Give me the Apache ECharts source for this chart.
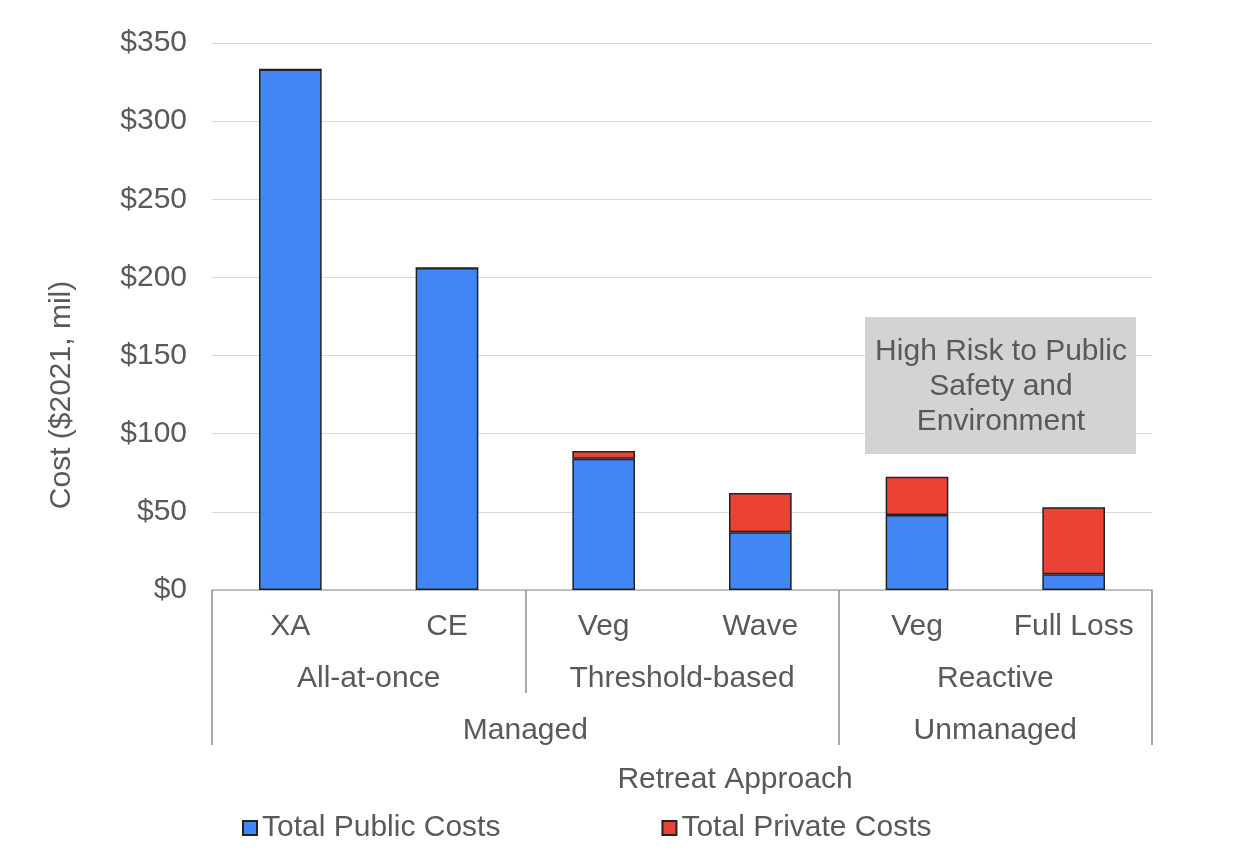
<!DOCTYPE html>
<html>
<head>
<meta charset="utf-8">
<title>Retreat Approach Costs</title>
<script src="https://cdn.jsdelivr.net/npm/echarts@6/dist/echarts.min.js"></script>
<style>
  html, body { margin: 0; padding: 0; background: #ffffff; }
  #chart { width: 1247px; height: 864px; }
</style>
</head>
<body>
<div id="chart"></div>
<script>
// Approach categories (bottom level of the axis)
const categories = ['XA', 'CE', 'Veg', 'Wave', 'Veg', 'Full Loss'];
// Middle level: retreat type, with how many categories each spans
const subGroups = ['All-at-once', 'Threshold-based', 'Reactive'];
const subGroupSizes = [2, 2, 2];
// Top level: managed vs unmanaged
const topGroups = ['Managed', 'Unmanaged'];
const topGroupSizes = [4, 2];

// Costs in $2021 millions
const publicCosts = [333, 206, 84, 37, 48, 10];
const privateCosts = [0, 0, 5, 25, 24.5, 43];

const yTicks = [0, 50, 100, 150, 200, 250, 300, 350];

const TEXT = '#595959';
const FONT = 'Liberation Sans, Arial, sans-serif';
const FS = 30;

// Boundaries and centers of each grouping band, in category units
function bands(sizes) {
  const edges = [0];
  const centers = [];
  sizes.forEach(function (s) {
    const start = edges[edges.length - 1];
    centers.push(start + s / 2);
    edges.push(start + s);
  });
  return { edges: edges, centers: centers };
}
const subBands = bands(subGroupSizes);
const topBands = bands(topGroupSizes);
// Dividers at the middle level that are not already top-level dividers
const subOnlyEdges = subBands.edges.filter(function (e) { return topBands.edges.indexOf(e) < 0; });

function labelFor(centers, names) {
  return function (v) {
    for (let i = 0; i < centers.length; i++) {
      if (Math.abs(centers[i] - v) < 1e-6) return names[i];
    }
    return '';
  };
}

const chart = echarts.init(document.getElementById('chart'));

chart.setOption({
  backgroundColor: '#ffffff',
  textStyle: { fontFamily: FONT, color: TEXT },
  animation: false,
  grid: { left: 212, right: 95, top: 43, bottom: 274, containLabel: false },
  legend: {
    left: 242,
    top: 813,
    padding: 0,
    icon: 'rect',
    itemWidth: 14,
    itemHeight: 14,
    itemGap: 161,
    textStyle: { fontSize: FS, color: TEXT, fontFamily: FONT },
    data: ['Total Public Costs', 'Total Private Costs']
  },
  xAxis: [
    {
      type: 'category',
      data: categories,
      boundaryGap: true,
      position: 'bottom',
      axisLine: { show: true, lineStyle: { color: '#b3b3b3', width: 1.5 } },
      axisTick: { show: false },
      axisLabel: { margin: 22, fontSize: FS, color: TEXT, fontFamily: FONT, interval: 0 },
      splitLine: { show: false }
    },
    {
      type: 'value',
      min: 0,
      max: categories.length,
      position: 'bottom',
      axisLine: { show: false },
      axisTick: {
        show: true,
        customValues: subOnlyEdges,
        length: 103,
        lineStyle: { color: '#8c8c8c', width: 1.5 }
      },
      axisLabel: {
        customValues: subBands.centers,
        formatter: labelFor(subBands.centers, subGroups),
        margin: 74,
        fontSize: FS,
        color: TEXT,
        fontFamily: FONT
      },
      splitLine: { show: false }
    },
    {
      type: 'value',
      min: 0,
      max: categories.length,
      position: 'bottom',
      name: 'Retreat Approach',
      nameLocation: 'middle',
      nameGap: 175,
      nameTextStyle: { fontSize: FS, color: TEXT, fontFamily: FONT, padding: [0, 0, 0, 106] },
      axisLine: { show: false },
      axisTick: {
        show: true,
        customValues: topBands.edges,
        length: 155,
        lineStyle: { color: '#8c8c8c', width: 1.5 }
      },
      axisLabel: {
        customValues: topBands.centers,
        formatter: labelFor(topBands.centers, topGroups),
        margin: 126,
        fontSize: FS,
        color: TEXT,
        fontFamily: FONT
      },
      splitLine: { show: false }
    }
  ],
  yAxis: {
    type: 'value',
    min: yTicks[0],
    max: yTicks[yTicks.length - 1],
    interval: yTicks[1] - yTicks[0],
    name: 'Cost ($2021, mil)',
    nameLocation: 'middle',
    nameRotate: 90,
    nameGap: 135,
    nameTextStyle: { fontSize: FS, color: TEXT, fontFamily: FONT, padding: [0, 157, 0, 0] },
    axisLine: { show: false },
    axisTick: { show: false },
    axisLabel: {
      margin: 25,
      fontSize: FS,
      color: TEXT,
      fontFamily: FONT,
      padding: [4, 0, 0, 0],
      formatter: function (v) { return '$' + v; }
    },
    splitLine: { show: true, lineStyle: { color: '#d9d9d9', width: 1 } }
  },
  series: [
    {
      name: 'Total Public Costs',
      type: 'bar',
      stack: 'cost',
      barWidth: '40%',
      data: publicCosts,
      itemStyle: { color: '#4285f4', borderColor: '#222222', borderWidth: 1.5 }
    },
    {
      name: 'Total Private Costs',
      type: 'bar',
      stack: 'cost',
      barWidth: '40%',
      data: privateCosts,
      itemStyle: { color: '#ea4335', borderColor: '#222222', borderWidth: 1.5 }
    }
  ],
  graphic: [
    {
      type: 'group',
      left: 865,
      top: 317,
      z: 100,
      children: [
        {
          type: 'rect',
          z: 100,
          shape: { x: 0, y: 0, width: 271, height: 137 },
          style: { fill: '#d3d3d3' }
        },
        {
          type: 'text',
          z: 101,
          x: 136,
          y: 70,
          style: {
            text: 'High Risk to Public\nSafety and\nEnvironment',
            fontSize: FS,
            fontFamily: FONT,
            fill: TEXT,
            align: 'center',
            verticalAlign: 'middle',
            lineHeight: 35
          }
        }
      ]
    }
  ]
});
</script>
</body>
</html>
